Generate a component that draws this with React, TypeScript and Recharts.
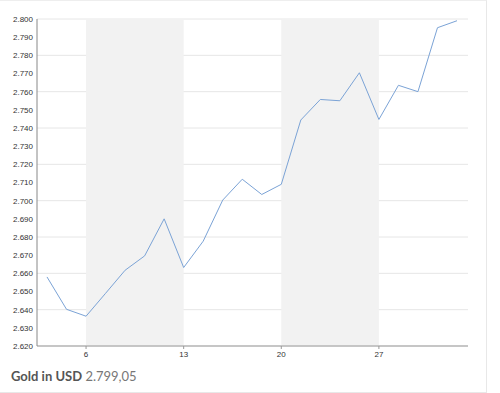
import { LineChart, Line, XAxis, YAxis, CartesianGrid, ReferenceArea } from 'recharts';

// Handelstage Januar
const days = ['2', '3', '6', '7', '8', '9', '10', '13', '14', '15', '16', '17', '20', '21', '22', '23', '24', '27', '28', '29', '30', '31'];
const prices = [2658, 2640.2, 2636.4, 2649, 2661.7, 2669.6, 2690, 2663.2, 2677.7, 2700.3, 2711.8, 2703.4, 2709, 2744.4, 2755.7, 2755, 2770.4, 2744.7, 2763.5, 2760, 2795.2, 2799.05];
const xTicks = ['6', '13', '20', '27'];
const yTicks = [2620, 2630, 2640, 2650, 2660, 2670, 2680, 2690, 2700, 2710, 2720, 2730, 2740, 2750, 2760, 2770, 2780, 2790, 2800];
const shadedWeeks: [string, string][] = [['6', '13'], ['20', '27']];

const data = days.map((d, i) => ({ day: d, price: prices[i] }));

const fmt = (v: number) => v.toLocaleString('de-DE', { minimumFractionDigits: 0, maximumFractionDigits: 0 });

export default function App() {
  return (
    <div style={{ position: 'absolute', left: 0, top: 0, width: 500, height: 393, background: '#fff', fontFamily: 'Arial, sans-serif' }}>
      <div style={{ position: 'absolute', left: -1, top: 0, width: 487, height: 391, borderRight: '1px solid #e8e8e8', borderBottom: '1px solid #e8e8e8', borderTop: '1px solid #eeeeee' }} />
      <div style={{ position: 'absolute', left: 0, top: 0 }}>
        <LineChart width={487} height={360} data={data} margin={{ top: 19, right: 19, bottom: 0, left: 0 }}>
          {shadedWeeks.map(([a, b]) => (
            <ReferenceArea key={a} x1={a} x2={b} fill="#f2f2f2" fillOpacity={1} stroke="none" />
          ))}
          <CartesianGrid vertical={false} stroke="#e6e6e6" />
          <XAxis
            dataKey="day"
            ticks={xTicks}
            padding={{ left: 10, right: 11 }}
            height={14}
            tickSize={3}
            axisLine={{ stroke: '#999' }}
            tickLine={{ stroke: '#999' }}
            tick={{ fontSize: 8, fill: '#333' }}
          />
          <YAxis
            domain={[2620, 2800]}
            ticks={yTicks}
            width={37}
            tickSize={2}
            tickLine={false}
            axisLine={{ stroke: '#888' }}
            tickFormatter={fmt}
            tick={{ fontSize: 8, fill: '#333', dx: 0 }}
          />
          <Line type="linear" dataKey="price" stroke="#7ba3d6" strokeWidth={1} dot={false} isAnimationActive={false} />
        </LineChart>
      </div>
      <div style={{ position: 'absolute', left: 11, top: 368, fontFamily: 'Lato, sans-serif', fontSize: 13 }}>
        <span style={{ fontWeight: 700, color: '#555' }}>Gold in USD</span>{' '}
        <span style={{ color: '#777' }}>2.799,05</span>
      </div>
    </div>
  );
}
